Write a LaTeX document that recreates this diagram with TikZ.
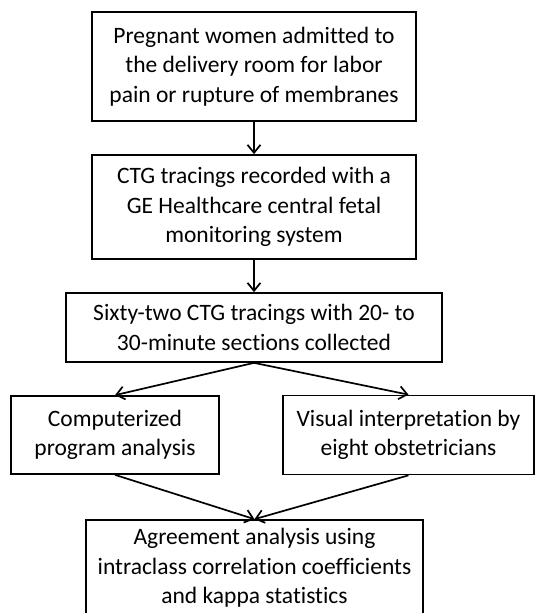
\documentclass[tikz,border=0pt]{standalone}
\usepackage{fontspec}
\setmainfont[Ligatures=NoCommon]{Carlito}
\usetikzlibrary{arrows.meta}
\begin{document}
\begin{tikzpicture}[x=1pt,y=-1pt,
  flowbox/.style={draw, line width=1.7pt, inner sep=0pt, align=center,
    font=\fontsize{23.5}{29.5}\selectfont},
  flowarrow/.style={line width=1.7pt, -{Straight Barb[length=8pt,width=13pt,line width=1.7pt]}}]
\useasboundingbox (0,0) rectangle (535,613);
\node[flowbox, minimum width=324pt, minimum height=109pt] (b1) at (254,66.5)
  {Pregnant women admitted to\\the delivery room for labor\\pain or rupture of membranes};
\node[flowbox, minimum width=324pt, minimum height=104pt] (b2) at (254,207)
  {CTG tracings recorded with a\\GE Healthcare central fetal\\monitoring system};
\node[flowbox, minimum width=376pt, minimum height=69pt] (b3) at (254,327.5)
  {Sixty-two CTG tracings with 20- to\\30-minute sections collected};
\node[flowbox, minimum width=208pt, minimum height=78pt] (b4) at (115,435)
  {Computerized\\program analysis};
\node[flowbox, minimum width=251pt, minimum height=79pt] (b5) at (408.5,435)
  {Visual interpretation by\\eight obstetricians};
\node[flowbox, minimum width=337pt, minimum height=96pt] (b6) at (254.5,568)
  {Agreement analysis using\\intraclass correlation coefficients\\and kappa statistics};
\draw[flowarrow] (b1) -- (b2);
\draw[flowarrow] (b2) -- (b3);
\draw[flowarrow] (b3.south) -- (b4.north);
\draw[flowarrow] (b3.south) -- (b5.north);
\draw[flowarrow] (b4.south) -- (b6.north);
\draw[flowarrow] (b5.south) -- (b6.north);
\end{tikzpicture}
\end{document}
